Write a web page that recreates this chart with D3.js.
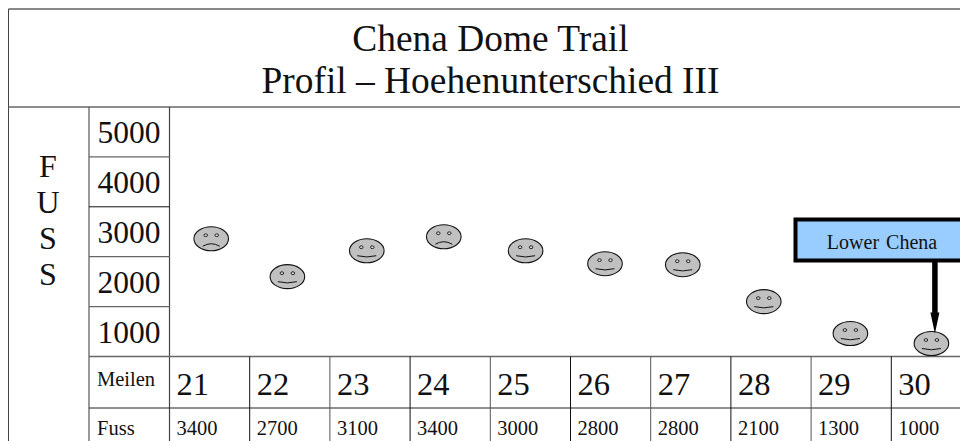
<!DOCTYPE html>
<html lang="en">
<meta charset="utf-8">
<script src="https://d3js.org/d3.v7.min.js"></script>
<style>
  body { margin: 0; background: white; }
  svg { display: block; }
  text { font-family: "Liberation Serif", serif; fill: #111; }
</style>
<body>
<svg id="chart" width="960" height="441"></svg>
<script>
  var titleLines = ["Chena Dome Trail", "Profil \u2013 Hoehenunterschied III"];
  var axisLetters = ["F", "U", "S", "S"];
  var ticks = [5000, 4000, 3000, 2000, 1000];
  var miles = [21, 22, 23, 24, 25, 26, 27, 28, 29, 30];
  var fuss = [3400, 2700, 3100, 3400, 3000, 2800, 2800, 2100, 1300, 1000];
  // where the faces sit, read against the axis on the left
  var faceMiles = [21.02, 21.97, 22.96, 23.92, 24.94, 25.93, 26.9, 27.91, 28.99, 30];
  var faceHeights = [2860, 2100, 2620, 2900, 2620, 2360, 2340, 1600, 960, 760];
  var sad = [true, false, false, true, false, false, false, false, false, false];
  var calloutLabel = "Lower Chena";
  var calloutIndex = 9;

  var svg = d3.select("#chart");

  var left = 8.5, top_ = 9, titleBottom = 107, col1 = 89, col2 = 169.5;
  var plotBottom = 356.5, rowBottom = 408, right = 972, bottom = 460;

  var xBand = d3.scaleBand().domain(miles).range([col2, col2 + 802]);
  var x = d3.scaleLinear().domain([21, 30]).range([xBand(21) + xBand.bandwidth() / 2, xBand(30) + xBand.bandwidth() / 2]);
  var yBand = d3.scaleBand().domain(ticks).range([titleBottom, plotBottom]);
  var y = d3.scaleLinear().domain([1000, 5000]).range([yBand(1000) + yBand.bandwidth() / 2, yBand(5000) + yBand.bandwidth() / 2]);

  function line(x1, y1, x2, y2, color, w) {
    svg.append("line").attr("x1", x1).attr("y1", y1).attr("x2", x2).attr("y2", y2)
      .attr("stroke", color || "#555").attr("stroke-width", w || 1);
  }

  // table frame
  line(left, top_, right, top_, "#111");
  line(left, top_, left, bottom, "#444");
  line(left, titleBottom, right, titleBottom, "#666", 1.6);
  line(col1, titleBottom, col1, bottom, "#555", 1.2);
  line(col2, titleBottom, col2, bottom, "#444", 1.2);
  line(col1, plotBottom, right, plotBottom, "#666", 1.4);
  line(col1, rowBottom, right, rowBottom, "#222");

  ticks.slice(0, -1).forEach(function(t) {
    var yy = yBand(t) + yBand.bandwidth();
    line(col1, yy, col2, yy, t == 4000 ? "#111" : "#666", t == 4000 ? 1 : 1.2);
  });
  miles.slice(1).forEach(function(m, i) {
    line(xBand(m), plotBottom, xBand(m), bottom, i % 2 ? "#555" : "#111");
  });

  // title
  svg.selectAll(".title").data(titleLines).enter().append("text")
    .attr("class", "title")
    .attr("x", 490.5)
    .attr("y", function(d, i) { return 50.5 + i * 42; })
    .attr("text-anchor", "middle")
    .style("font-size", "37.4px")
    .text(function(d) { return d; });

  // vertical axis title
  svg.selectAll(".letter").data(axisLetters).enter().append("text")
    .attr("class", "letter")
    .attr("x", 48)
    .attr("y", function(d, i) { return 177 + i * 36; })
    .attr("text-anchor", "middle")
    .style("font-size", "32px")
    .text(function(d) { return d; });

  // y labels
  svg.selectAll(".tick-label").data(ticks).enter().append("text")
    .attr("class", "tick-label")
    .attr("x", 129)
    .attr("y", function(d) { return yBand(d) + yBand.bandwidth() / 2 + 11; })
    .attr("text-anchor", "middle")
    .style("font-size", "31.5px")
    .text(function(d) { return d; });

  // bottom rows
  svg.append("text").attr("x", 97).attr("y", 386).style("font-size", "20.5px").text("Meilen");
  svg.append("text").attr("x", 97).attr("y", 435).style("font-size", "20.5px").text("Fuss");

  svg.selectAll(".mile").data(miles).enter().append("text")
    .attr("class", "mile")
    .attr("x", function(d) { return xBand(d) + 7; })
    .attr("y", 395)
    .style("font-size", "32.5px")
    .text(function(d) { return d; });

  svg.selectAll(".fuss").data(fuss).enter().append("text")
    .attr("class", "fuss")
    .attr("x", function(d, i) { return xBand(miles[i]) + 7; })
    .attr("y", 435)
    .style("font-size", "20.5px")
    .text(function(d) { return d; });

  // faces
  var faces = svg.selectAll(".face").data(faceMiles).enter().append("g")
    .attr("class", "face")
    .attr("transform", function(d, i) { return "translate(" + x(d) + "," + y(faceHeights[i]) + ")"; });

  faces.append("ellipse").attr("rx", 17.3).attr("ry", 12)
    .attr("fill", "#c0c0c0").attr("stroke", "#111").attr("stroke-width", 1.1);
  [-5.5, 5.5].forEach(function(dx) {
    faces.append("ellipse").attr("cx", dx).attr("cy", -3.5).attr("rx", 1.8).attr("ry", 1.4)
      .attr("fill", "#d8d8d8").attr("stroke", "#111").attr("stroke-width", 0.9);
  });
  faces.append("path")
    .attr("d", function(d, i) {
      return sad[i] ? "M-8.5,7.5 Q0,2.5 8.5,7.5" : "M-9.5,5 Q0,7.5 9.5,5";
    })
    .attr("fill", "none").attr("stroke", "#111").attr("stroke-width", 1);

  // callout
  svg.append("rect").attr("x", 795.5).attr("y", 219.5).attr("width", 200).attr("height", 41)
    .attr("fill", "#99ccff").attr("stroke", "#000").attr("stroke-width", 4);
  svg.append("text").attr("x", 882).attr("y", 249).attr("text-anchor", "middle")
    .style("font-size", "20px").style("word-spacing", "2px").text(calloutLabel);

  var arrowX = x(faceMiles[calloutIndex]) + 3.5;
  var arrowTip = y(faceHeights[calloutIndex]) - 11;
  svg.append("line").attr("x1", arrowX).attr("y1", 259).attr("x2", arrowX).attr("y2", arrowTip - 18)
    .attr("stroke", "#000").attr("stroke-width", 5.5);
  svg.append("path")
    .attr("d", d3.line()([[arrowX - 4.5, arrowTip - 20], [arrowX + 4.5, arrowTip - 20], [arrowX, arrowTip + 1]]))
    .attr("fill", "#000");
</script>
</body>
</html>
